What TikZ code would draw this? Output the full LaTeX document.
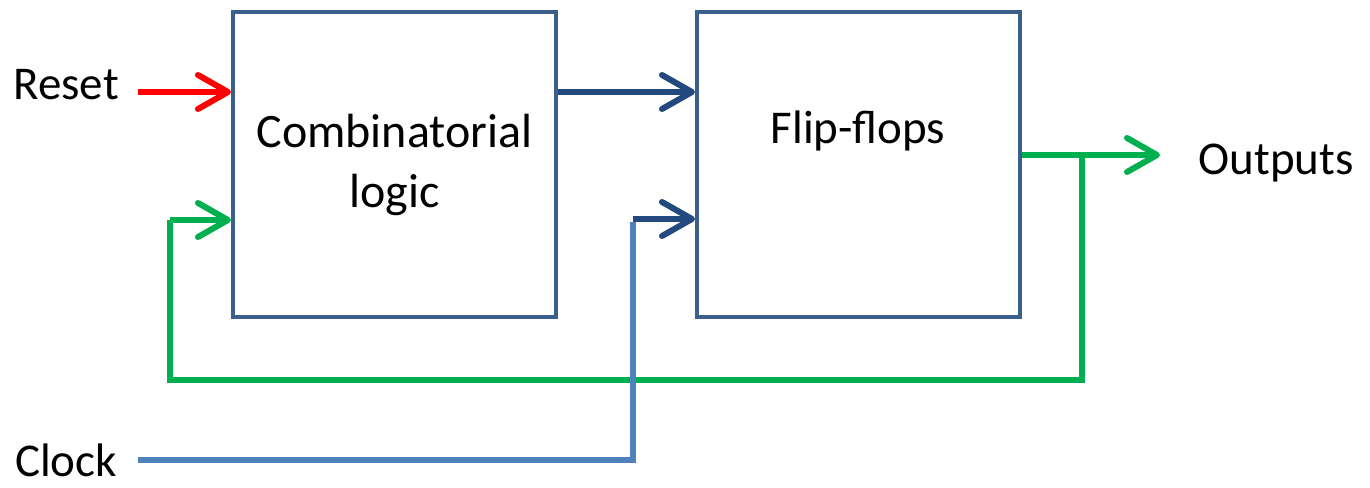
\documentclass[tikz,border=0pt]{standalone}
\usepackage{fontspec}
\setmainfont{Carlito}
\usetikzlibrary{arrows.meta}
\definecolor{boxblue}{HTML}{3A5F8B}
\definecolor{linkblue}{HTML}{234A7E}
\definecolor{clockblue}{HTML}{4F81BD}
\definecolor{fbgreen}{HTML}{00B050}
\definecolor{resetred}{HTML}{FF0000}
\begin{document}
\begin{tikzpicture}[x=1pt,y=-1pt,
  block/.style={draw=boxblue,line width=4pt,minimum width=323pt,minimum height=305pt,
    inner sep=0pt,align=center,font=\fontsize{48}{60}\selectfont},
  lbl/.style={inner sep=0pt,font=\fontsize{47}{56}\selectfont},
  wire/.style={line width=6pt},
  tip/.style={-{Straight Barb[length=30pt,width=34pt,line width=6pt,round]}}
]
\useasboundingbox (0,0) rectangle (1370,487);

% blocks
\node[block] (comb) at (394.5,164.5) {Combinatorial\\logic};
\node[block] (ff) at (858.5,164.5) {};
\node[lbl] (fftext) at (858,131) {Flip-flops};

% external labels
\node[lbl] (reset) at (66,85) {Reset};
\node[lbl] (clock) at (66,460) {Clock};
\node[lbl] (outputs) at (1276,163) {Outputs};

% connection points
\coordinate (rs) at (138,92);
\coordinate (ck) at (138,460);
\coordinate (ckup) at (633,460);
\coordinate (ckin) at (633,219);
\coordinate (fbin) at (170,220);
\coordinate (fbdown) at (170,380);
\coordinate (fbtap) at (1082,155);
\coordinate (fbcorner) at (1082,380);
\coordinate (outend) at (1160,155);

% reset input
\draw[wire,resetred,tip] (rs) -- (rs -| comb.west);
% combinatorial logic to flip-flops
\draw[wire,linkblue,tip] (comb.east |- rs) -- (ff.west |- rs);
% outputs and feedback
\draw[wire,fbgreen,tip] (ff.east |- fbtap) -- (outend);
\draw[wire,fbgreen] (fbtap) -- (fbcorner) -- (fbdown) -- (fbin);
\draw[wire,fbgreen,tip] (fbin) -- (fbin -| comb.west);
% clock
\draw[wire,clockblue] (ck) -- (ckup) -- ([yshift=-3pt]ckin);
\draw[wire,linkblue,tip] (ckin) -- (ckin -| ff.west);
\end{tikzpicture}
\end{document}
